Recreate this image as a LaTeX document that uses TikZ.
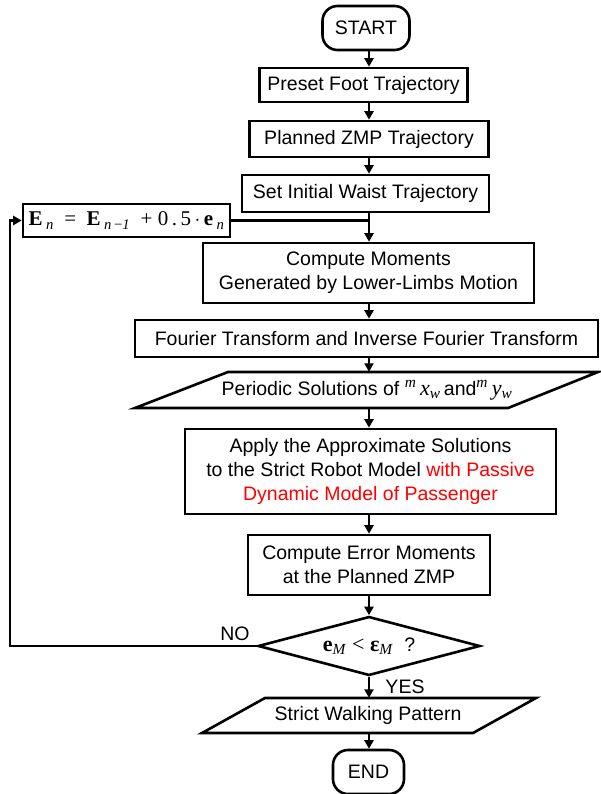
\documentclass[tikz,border=0pt]{standalone}
\usepackage{fontspec}
\setmainfont{Liberation Sans}
\newfontfamily\tms{Liberation Serif}
\usetikzlibrary{arrows.meta,shapes.geometric,calc}
\newcommand{\sbi}[1]{\textsubscript{\textit{#1}}}
\tikzset{
  txt/.style={font=\fontsize{19.5}{24}\selectfont, align=center, inner sep=0pt},
  proc/.style={txt, draw, line width=2.6pt},
  term/.style={proc, rounded corners=15pt},
  dec/.style={txt, draw, line width=2.6pt, diamond, aspect=3.76},
  conn/.style={line width=2.6pt},
  arr/.style={conn, -{Triangle[length=8.5pt,width=9pt]}},
}
\begin{document}
\begin{tikzpicture}[x=1pt,y=-1pt]
\useasboundingbox (0,0) rectangle (600,794);
\coordinate (ax) at (369,0);
\coordinate (lx) at (10,0);

\node[term, minimum width=87pt, minimum height=44pt] (start) at (366,28) {START};
\node[proc, minimum width=208pt, minimum height=34pt] (preset) at (363.5,85) {Preset Foot Trajectory};
\node[proc, minimum width=239pt, minimum height=36pt] (planned) at (369,139) {Planned ZMP Trajectory};
\node[proc, minimum width=247pt, minimum height=37pt] (waist) at (365.5,193.5) {Set Initial Waist Trajectory};
\node[proc, minimum width=207pt, minimum height=33pt] (ebox) at (126.5,220.5)
  {\tms\fontsize{21}{24}\selectfont\textbf{E}\,\sbi{n}\ \ =\ \ \textbf{E}\,\sbi{n\,\textup{\textminus}1}\ \ +\ 0\,.\,5\,$\cdot$\,\textbf{e}\,\sbi{n}};
\node[proc, minimum width=331pt, minimum height=60pt] (moments) at (368.5,273)
  {Compute Moments\\Generated by Lower-Limbs Motion};
\node[proc, minimum width=463pt, minimum height=37pt] (fourier) at (366.5,338.5)
  {Fourier Transform and Inverse Fourier Transform};
\node[txt, minimum height=36pt] (per) at (367,390)
  {Periodic Solutions of {\tms\fontsize{22}{24}\selectfont\textsuperscript{\textit{m}}\,\textit{x}\sbi{w}}\,and{\tms\fontsize{22}{24}\selectfont\textsuperscript{\textit{m}}\,\textit{y}\sbi{w}}};
\draw[conn, line join=miter] (135,408) -- (228,372) -- (598,372) -- (508,408) -- cycle;
\node[proc, minimum width=371pt, minimum height=85pt] (apply) at (370.5,471.5)
  {Apply the Approximate Solutions\\to the Strict Robot Model \textcolor{red}{with Passive}\\\textcolor{red}{Dynamic Model of Passenger}};
\node[proc, minimum width=242pt, minimum height=60pt] (err) at (369,565)
  {Compute Error Moments\\at the Planned ZMP};
\node[dec, minimum width=222pt, minimum height=59pt] (dia) at (369,646)
  {{\tms\fontsize{22}{24}\selectfont\textbf{e}\sbi{M}\ <\ \textbf{ε}\sbi{M}}\ \ ?};
\node[txt, minimum height=35pt] (strict) at (368,715.5) {Strict Walking Pattern};
\draw[conn, line join=miter] (202,733) -- (265,698) -- (536,698) -- (473,733) -- cycle;
\node[term, minimum width=71pt, minimum height=44pt] (end) at (368.5,772) {END};

\node[txt] (no) at (235,634) {NO};
\node[txt] (yes) at (405,687) {YES};

\draw[arr] (start.south -| ax) -- (preset.north -| ax);
\draw[arr] (preset.south -| ax) -- (planned.north -| ax);
\draw[arr] (planned.south -| ax) -- (waist.north -| ax);
\draw[arr] (waist.south -| ax) -- (moments.north -| ax);
\draw[conn] (ebox.east) -- (ebox.east -| ax);
\draw[arr] (moments.south -| ax) -- (fourier.north -| ax);
\draw[arr] (fourier.south -| ax) -- (per.north -| ax);
\draw[arr] (per.south -| ax) -- (apply.north -| ax);
\draw[arr] (apply.south -| ax) -- (err.north -| ax);
\draw[arr] (err.south -| ax) -- (dia.north);
\draw[arr] (dia.south) -- (strict.north -| ax);
\draw[arr] (strict.south -| ax) -- (end.north -| ax);
\draw[arr] (dia.west) -- (dia.west -| lx) |- (ebox.west);
\end{tikzpicture}
\end{document}
